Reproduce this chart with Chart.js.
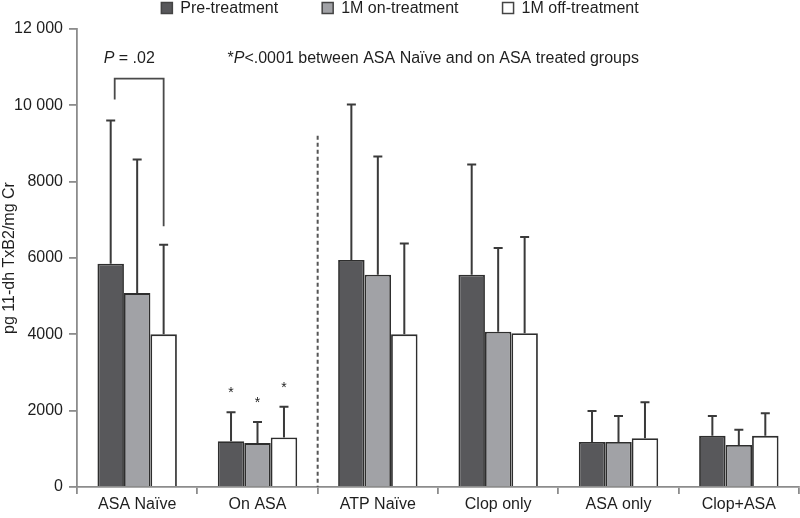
<!DOCTYPE html>
<html>
<head>
<meta charset="utf-8">
<script src="https://cdn.jsdelivr.net/npm/chart.js@4/dist/chart.umd.min.js"></script>
<style>
  html, body { margin: 0; padding: 0; background: #fff; }
  #wrap { width: 800px; height: 518px; }
</style>
</head>
<body>
<div id="wrap"><canvas id="myChart" width="800" height="518"></canvas></div>
<script>
// groups on the x axis
var categories = ["ASA Naïve", "On ASA", "ATP Naïve", "Clop only", "ASA only", "Clop+ASA"];

// means
var preTreatment = [5850, 1200, 5950, 5560, 1180, 1340];
var onTreatment  = [5080, 1150, 5560, 4070, 1180, 1100];
var offTreatment = [4000, 1300, 4000, 4030, 1280, 1340];

// upper error bar (SD)
var preSD = [3750, 760, 4070, 2890, 810, 520];
var onSD  = [3500, 550, 3100, 2190, 680, 400];
var offSD = [2350, 800, 2380, 2520, 940, 590];

var seriesNames = ["Pre-treatment", "1M on-treatment", "1M off-treatment"];
var yTicks = [0, 2000, 4000, 6000, 8000, 10000, 12000];

// significance stars over the "On ASA" group
var starGroup = 1;

Chart.defaults.font.family = "'Liberation Sans', Arial, sans-serif";
Chart.defaults.font.size = 16;
Chart.defaults.color = "#1e1e1e";

var fills = ["#58585b", "#a1a2a6", "#ffffff"];
var errs = [preSD, onSD, offSD];

function fmt(v) {
  if (v >= 10000) return String(v).replace(/\B(?=(\d{3})+(?!\d))/g, " ");
  return String(v);
}

const extras = {
  id: "extras",
  afterDatasetsDraw(chart) {
    const ctx = chart.ctx;
    const y = chart.scales.y;
    const x = chart.scales.x;
    const area = chart.chartArea;
    ctx.save();

    // error bars, only the upper half
    ctx.strokeStyle = "#3a3a3a";
    ctx.lineWidth = 2;
    chart.data.datasets.forEach(function (ds, d) {
      const meta = chart.getDatasetMeta(d);
      meta.data.forEach(function (bar, i) {
        const top = y.getPixelForValue(ds.data[i] + errs[d][i]);
        ctx.beginPath();
        ctx.moveTo(bar.x, bar.y);
        ctx.lineTo(bar.x, top);
        ctx.moveTo(bar.x - 4.5, top);
        ctx.lineTo(bar.x + 4.5, top);
        ctx.stroke();
      });
    });

    // stars
    ctx.fillStyle = "#1e1e1e";
    ctx.font = "14px 'Liberation Sans', Arial, sans-serif";
    ctx.textAlign = "center";
    ctx.textBaseline = "middle";
    chart.data.datasets.forEach(function (ds, d) {
      const bar = chart.getDatasetMeta(d).data[starGroup];
      const top = y.getPixelForValue(ds.data[starGroup] + errs[d][starGroup]);
      ctx.fillText("*", bar.x, top - 19);
    });

    // dashed separator between ASA groups and ATP groups
    const sepX = (x.getPixelForValue(1) + x.getPixelForValue(2)) / 2;
    ctx.strokeStyle = "#555";
    ctx.lineWidth = 2;
    ctx.setLineDash([4, 3]);
    ctx.beginPath();
    ctx.moveTo(sepX, y.getPixelForValue(9200));
    ctx.lineTo(sepX, area.bottom);
    ctx.stroke();
    ctx.setLineDash([]);

    // P = .02 bracket over ASA Naive
    const b0 = chart.getDatasetMeta(0).data[0];
    const b2 = chart.getDatasetMeta(2).data[0];
    const bl = b0.x + 4, br = b2.x;
    ctx.strokeStyle = "#4a4a4a";
    ctx.lineWidth = 1.8;
    ctx.beginPath();
    ctx.moveTo(bl, y.getPixelForValue(10150));
    ctx.lineTo(bl, y.getPixelForValue(10700));
    ctx.lineTo(br, y.getPixelForValue(10700));
    ctx.lineTo(br, y.getPixelForValue(6830));
    ctx.stroke();

    const ty = y.getPixelForValue(11220);
    ctx.textAlign = "left";
    ctx.fillStyle = "#1e1e1e";
    ctx.font = "italic 16px 'Liberation Sans', Arial, sans-serif";
    let tx = bl - 11;
    ctx.fillText("P", tx, ty);
    tx += ctx.measureText("P").width;
    ctx.font = "16px 'Liberation Sans', Arial, sans-serif";
    ctx.fillText(" = .02", tx, ty);

    // note
    tx = x.getPixelForValue(1) - 30;
    ctx.fillText("*", tx, ty);
    tx += ctx.measureText("*").width;
    ctx.font = "italic 16px 'Liberation Sans', Arial, sans-serif";
    ctx.fillText("P", tx, ty);
    tx += ctx.measureText("P").width;
    ctx.font = "16px 'Liberation Sans', Arial, sans-serif";
    ctx.fillText("<.0001 between ASA Naïve and on ASA treated groups", tx, ty);

    // legend
    const gap = 44, box = 11, tgap = 8;
    let total = 0;
    const w = seriesNames.map(function (s) { return ctx.measureText(s).width; });
    w.forEach(function (v) { total += box + tgap + v; });
    total += gap * (w.length - 1);
    let lx = chart.width / 2 - total / 2;
    const ly = 8;
    ctx.lineWidth = 1.5;
    ctx.strokeStyle = "#444";
    seriesNames.forEach(function (s, i) {
      ctx.fillStyle = fills[i];
      ctx.fillRect(lx, ly - box / 2, box, box);
      ctx.strokeRect(lx, ly - box / 2, box, box);
      ctx.fillStyle = "#1e1e1e";
      ctx.fillText(s, lx + box + tgap, ly + 1);
      lx += box + tgap + w[i] + gap;
    });

    ctx.restore();
  }
};

new Chart("myChart", {
  type: "bar",
  data: {
    labels: categories,
    datasets: [
      { label: seriesNames[0], data: preTreatment, backgroundColor: fills[0], borderColor: "#2e2e2e", borderWidth: 1.8 },
      { label: seriesNames[1], data: onTreatment, backgroundColor: fills[1], borderColor: "#2e2e2e", borderWidth: 1.8 },
      { label: seriesNames[2], data: offTreatment, backgroundColor: fills[2], borderColor: "#2e2e2e", borderWidth: 1.8 }
    ]
  },
  options: {
    responsive: false,
    animation: false,
    categoryPercentage: 0.66,
    barPercentage: 1.0,
    layout: { padding: { top: 29, right: 1, left: 2, bottom: 0 } },
    plugins: {
      legend: { display: false },
      tooltip: { enabled: false }
    },
    scales: {
      x: {
        afterFit: function (scale) { scale.height = 31; },
        grid: { display: true, drawOnChartArea: false, tickLength: 7, color: "#8c8c8c", lineWidth: 1.8 },
        border: { color: "#8c8c8c", width: 1.8 },
        ticks: { padding: 3, color: "#1e1e1e", font: { lineHeight: 1 } }
      },
      y: {
        min: 0,
        max: 12000,
        afterBuildTicks: function (scale) {
          scale.ticks = yTicks.map(function (v) { return { value: v }; });
        },
        afterFit: function (scale) { scale.width = 75; },
        grid: { display: true, drawOnChartArea: false, tickLength: 8, color: "#8c8c8c", lineWidth: 1.8 },
        border: { color: "#8c8c8c", width: 1.8 },
        ticks: { padding: 6, color: "#1e1e1e", callback: function (v) { return fmt(v); } },
        title: {
          display: true,
          text: "pg 11-dh TxB2/mg Cr",
          font: { size: 16, lineHeight: 1 },
          padding: { top: 0, bottom: 0 },
          color: "#1e1e1e"
        }
      }
    }
  },
  plugins: [extras]
});
</script>
</body>
</html>
